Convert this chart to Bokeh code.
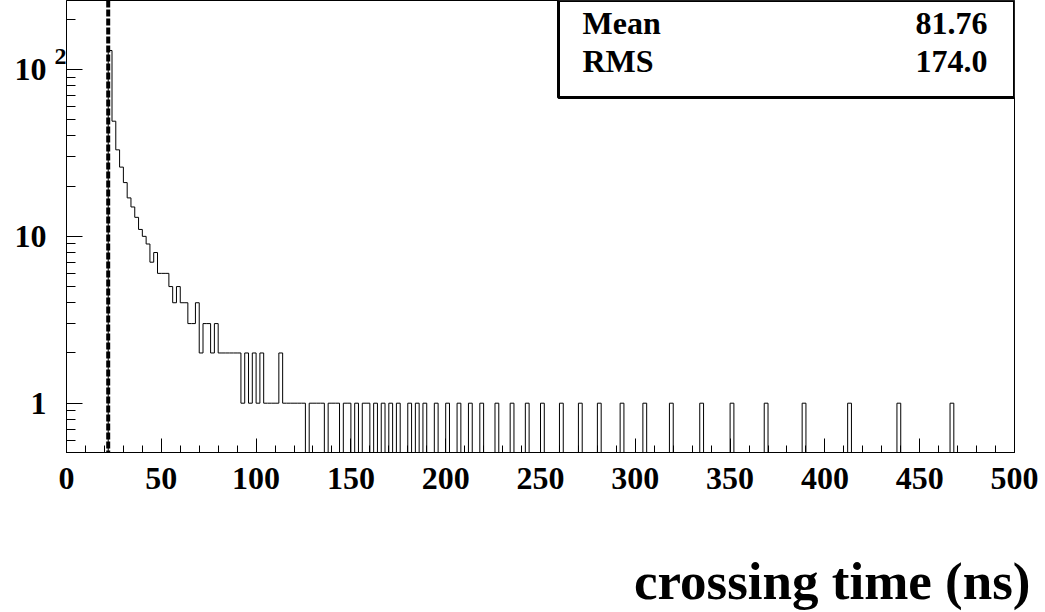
import numpy as np
from bokeh.plotting import figure
from bokeh.models import (FixedTicker, Span, Label, BoxAnnotation, Title,
                          CustomJSTickFormatter, Range1d, LogAxis, LogScale)
from bokeh.embed import file_html
from bokeh.resources import INLINE

# ---------------- data ----------------
BIN_WIDTH = 2.0          # ns
N_BINS = 250             # 0 .. 500 ns
# consecutive bins starting at 22 ns
dense_start = 22.0
dense_counts = [130, 49, 33, 26, 21, 17, 15, 13, 11, 10, 9, 7, 8, 6, 6, 6,
                5, 4, 5, 4, 4, 3, 3, 4, 2, 3, 3, 2, 3, 2, 2, 2, 2, 2, 2,
                1, 2, 1, 2, 1, 2, 1, 1, 1, 1, 2, 1, 1, 1, 1, 1, 1]
# tail: left edges (ns) of bins holding a single entry
tail_single = [128, 130, 132, 134, 138, 140, 142, 146, 148, 152, 156, 158,
               162, 166, 170, 174, 180, 184, 188, 194, 200, 206, 212, 218,
               226, 234, 242, 250, 260, 270, 280, 292, 304, 318, 334, 350,
               368, 388, 412, 438, 466]
cut_time = 22.0
stats_names = ["Mean", "RMS"]
stats_values = ["81.76", "174.0"]
x_major = list(range(0, 501, 50))
x_minor = list(range(0, 501, 10))
y_major = [1, 10, 100]
y_major_labels = ["1", "10", "10"]
y_exponent_labels = ["", "", "2"]
x_title = "crossing time (ns)"

# ---------------- geometry helpers (reference pixel -> data) ----------------
FX0, FX1 = 66.0, 1014.0          # frame x extent (px)
FY0, FY1 = 0.0, 452.0            # frame y extent (px)
PY1, PDEC = 402.7, 166.85         # y px of value 1, px per decade
def x_at(px):
    return (px - FX0) / (FX1 - FX0) * 500.0
def y_at(py):
    return 10 ** ((PY1 - py) / PDEC)

Y_MIN = y_at(FY1)
Y_MAX = y_at(FY0)
W, H = 1045, 612
EXP_RAISE = 10 ** (13.0 / PDEC)   # exponent drawn 13 px above its tick

# ---------------- histogram ----------------
counts = np.zeros(N_BINS)
i0 = int(round(dense_start / BIN_WIDTH))
counts[i0:i0 + len(dense_counts)] = dense_counts
for t in tail_single:
    counts[int(round(t / BIN_WIDTH))] += 1
edges = np.arange(N_BINS + 1) * BIN_WIDTH
yplot = np.where(counts > 0, counts, Y_MIN)
yplot = np.append(yplot, yplot[-1])

FONT = "Liberation Serif"

p = figure(frame_width=int(FX1 - FX0), frame_height=int(FY1 - FY0),
           y_axis_type="log", y_axis_location=None,
           x_range=Range1d(0, 500), y_range=Range1d(Y_MIN, Y_MAX),
           output_backend="svg", toolbar_location=None,
           min_border_left=int(FX0), min_border_right=int(W - FX1),
           min_border_top=int(FY0), min_border_bottom=int(H - FY1))
p.extra_y_ranges = {"exp": Range1d(Y_MIN / EXP_RAISE, Y_MAX / EXP_RAISE)}
p.extra_y_scales = {"exp": LogScale()}
p.grid.visible = False
p.outline_line_color = "black"
p.outline_line_width = 1
p.background_fill_color = "white"
p.border_fill_color = "white"

p.step(edges, yplot, mode="after", line_color="black", line_width=1)

p.add_layout(Span(location=cut_time, dimension="height", line_color="black",
                  line_width=4, line_dash="7 2"))

def style(ax, size):
    ax.axis_line_color = "black"
    ax.axis_line_width = 1
    ax.major_tick_line_color = "black"
    ax.minor_tick_line_color = "black"
    ax.major_tick_out = 0
    ax.minor_tick_out = 0
    ax.major_label_text_font = FONT
    ax.major_label_text_font_style = "bold"
    ax.major_label_text_font_size = size
    ax.major_label_text_color = "black"

def hide_ticks(ax):
    ax.axis_line_color = None
    ax.major_tick_line_color = None
    ax.minor_tick_line_color = None
    ax.major_tick_in = 0
    ax.minor_tick_in = 0

# x axis
xa = p.xaxis[0]
style(xa, "32px")
xa.ticker = FixedTicker(ticks=x_major, minor_ticks=x_minor)
xa.major_tick_in = 14
xa.minor_tick_in = 7
xa.major_label_standoff = 15
# invisible spacer label pushes the title further down
xa.axis_label = "\u00a0"
xa.axis_label_text_font_size = "10px"
xa.axis_label_standoff = 44

# y axes
y_minor = [m * 10.0 ** e for e in (-1, 0, 1, 2) for m in range(2, 10)]
fmt_code = """
const i = vals.findIndex(v => Math.abs(v - tick) < 1e-6 * v);
return i >= 0 ? labs[i] : "";
"""
def fmt(labs):
    return CustomJSTickFormatter(args=dict(vals=y_major, labs=labs),
                                 code=fmt_code)

# 1) ticks on the frame edge
ya_ticks = LogAxis(ticker=FixedTicker(ticks=y_major, minor_ticks=y_minor),
                   formatter=fmt(["", "", ""]))
style(ya_ticks, "10px")
ya_ticks.major_tick_in = 16
ya_ticks.minor_tick_in = 9
ya_ticks.major_label_standoff = 0

# 2) exponent, drawn on a range shifted upward
ya_exp = LogAxis(y_range_name="exp", ticker=FixedTicker(ticks=y_major),
                 formatter=fmt(y_exponent_labels))
style(ya_exp, "24px")
hide_ticks(ya_exp)
ya_exp.major_label_standoff = 0

# 3) mantissa
ya_man = LogAxis(ticker=FixedTicker(ticks=y_major),
                 formatter=fmt(y_major_labels))
style(ya_man, "32px")
hide_ticks(ya_man)
ya_man.major_label_standoff = 5

p.add_layout(ya_ticks, "left")
p.add_layout(ya_exp, "left")
p.add_layout(ya_man, "left")

# stats box
p.add_layout(BoxAnnotation(left=x_at(558), right=500, bottom=y_at(97),
                           top=Y_MAX, fill_color="white", fill_alpha=1.0,
                           line_color="black", line_width=3, line_alpha=1.0))
STAT_MID = [22.5, 60.9]           # vertical centres of the two rows (px)
for k, (name, val) in enumerate(zip(stats_names, stats_values)):
    p.add_layout(Label(x=x_at(582), y=y_at(STAT_MID[k]), text=name,
                       text_font=FONT, text_font_style="bold",
                       text_font_size="32px", text_align="left",
                       text_baseline="middle", text_color="black"))
    p.add_layout(Label(x=x_at(987), y=y_at(STAT_MID[k]), text=val,
                       text_font=FONT, text_font_style="bold",
                       text_font_size="32px", text_align="right",
                       text_baseline="middle", text_color="black"))

# x-axis title, right aligned below the axis
p.add_layout(Title(text=x_title, align="right", offset=-16, standoff=0,
                   text_font=FONT, text_font_style="bold",
                   text_font_size="53px", text_color="black"), "below")

open("out.html", "w").write(file_html(p, INLINE))
